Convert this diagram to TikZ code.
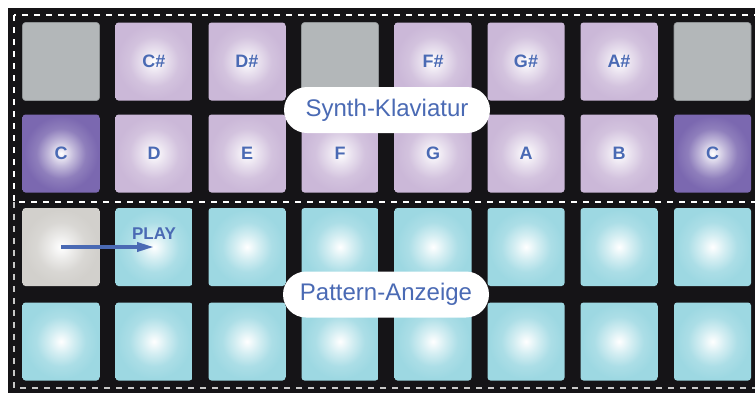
\documentclass[tikz,border=0pt]{standalone}
\usepackage{fontspec}
\setmainfont{Liberation Sans}
\usetikzlibrary{arrows.meta}
\definecolor{bgdark}{HTML}{151417}
\definecolor{padgrey}{HTML}{B3B7B9}
\definecolor{padgreyedge}{HTML}{8E9294}
\definecolor{padlav}{HTML}{CBB8D8}
\definecolor{padviolet}{HTML}{7B68B0}
\definecolor{padcyan}{HTML}{9DD8E2}
\definecolor{padstone}{HTML}{D2D0CC}
\definecolor{txtblue}{HTML}{4A6AB4}
\definecolor{dashgrey}{HTML}{C8C8C8}
\newcommand\mypadshading[2]{%
  \pgfdeclareradialshading{#1}{\pgfpoint{0bp}{0bp}}{%
    color(0bp)=(white); color(8bp)=(#2!45!white);
    color(16bp)=(#2!85!white); color(24bp)=(#2); color(50bp)=(#2)}}
\mypadshading{shlav}{padlav}
\mypadshading{shviolet}{padviolet}
\mypadshading{shcyan}{padcyan}
\mypadshading{shstone}{padstone}
\tikzset{
  pad/.style={minimum width=77pt, minimum height=78pt, rounded corners=3pt,
    inner sep=0pt, text=txtblue, font=\fontsize{18}{18}\selectfont\bfseries},
  lavpad/.style={pad, shading=shlav},
  violetpad/.style={pad, shading=shviolet},
  cyanpad/.style={pad, shading=shcyan},
  stonepad/.style={pad, shading=shstone},
  greypad/.style={pad, fill=padgrey, draw=padgreyedge, line width=0.6pt},
  pill/.style={fill=white, rounded corners=23pt, minimum width=206pt,
    minimum height=46pt, inner sep=0pt, text=txtblue,
    font=\fontsize{24}{24}\selectfont},
  frameline/.style={line width=1.2pt, dash pattern=on 6pt off 6pt},
  playarrow/.style={draw=txtblue, line width=3.5pt,
    -{Triangle[length=17pt,width=9pt]}},
}
\begin{document}
\begin{tikzpicture}[x=1pt,y=-1pt]
\useasboundingbox (0,0) rectangle (755,392);
\clip (0,0) rectangle (755,392);
\fill[bgdark] (8,8) rectangle (760,400);
% row 1
\node[greypad]   (p11) at (61,61.5) {};
\node[lavpad]    (p12) at (154,61.5) {C\#};
\node[lavpad]    (p13) at (247,61.5) {D\#};
\node[greypad]   (p14) at (340,61.5) {};
\node[lavpad]    (p15) at (433,61.5) {F\#};
\node[lavpad]    (p16) at (526,61.5) {G\#};
\node[lavpad]    (p17) at (619,61.5) {A\#};
\node[greypad]   (p18) at (712.5,61.5) {};
% row 2
\node[violetpad] (p21) at (61,153.5) {C};
\node[lavpad]    (p22) at (154,153.5) {D};
\node[lavpad]    (p23) at (247,153.5) {E};
\node[lavpad]    (p24) at (340,153.5) {F};
\node[lavpad]    (p25) at (433,153.5) {G};
\node[lavpad]    (p26) at (526,153.5) {A};
\node[lavpad]    (p27) at (619,153.5) {B};
\node[violetpad] (p28) at (712.5,153.5) {C};
% row 3
\node[stonepad]  (p31) at (61,247) {};
\node[cyanpad]   (p32) at (154,247) {};
\node[cyanpad]   (p33) at (247,247) {};
\node[cyanpad]   (p34) at (340,247) {};
\node[cyanpad]   (p35) at (433,247) {};
\node[cyanpad]   (p36) at (526,247) {};
\node[cyanpad]   (p37) at (619,247) {};
\node[cyanpad]   (p38) at (712.5,247) {};
% row 4
\node[cyanpad]   (p41) at (61,341.5) {};
\node[cyanpad]   (p42) at (154,341.5) {};
\node[cyanpad]   (p43) at (247,341.5) {};
\node[cyanpad]   (p44) at (340,341.5) {};
\node[cyanpad]   (p45) at (433,341.5) {};
\node[cyanpad]   (p46) at (526,341.5) {};
\node[cyanpad]   (p47) at (619,341.5) {};
\node[cyanpad]   (p48) at (712.5,341.5) {};
% frames
\draw[frameline, draw=white] (14,15) rectangle (770,202);
\draw[frameline, draw=dashgrey] (14,202) -- (14,388) -- (770,388);
% play
\node[text=txtblue, font=\fontsize{17}{17}\selectfont\bfseries] (play) at (154,234) {PLAY};
\draw[playarrow] (p31.center) -- (p32.center);
% labels
\node[pill] (synth) at (387,110) {Synth-Klaviatur};
\node[pill] (pattern) at (386,294.5) {Pattern-Anzeige};
\end{tikzpicture}
\end{document}
